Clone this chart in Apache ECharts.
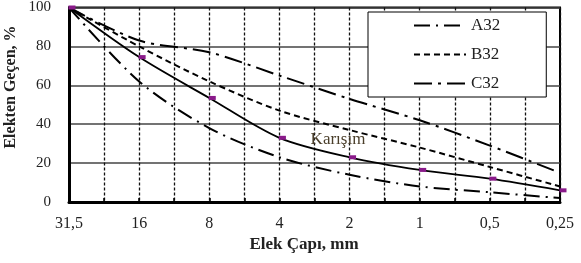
<!DOCTYPE html>
<html>
<head>
<meta charset="utf-8">
<script src="https://cdn.jsdelivr.net/npm/echarts@6/dist/echarts.min.js"></script>
<style>
  html, body { margin: 0; padding: 0; background: #fff; }
  #chart { width: 581px; height: 263px; }
</style>
</head>
<body>
<div id="chart"></div>
<script>
// elek acikliklari (mm)
var sieves = ['31,5', '16', '8', '4', '2', '1', '0,5', '0,25'];
var yTicks = [0, 20, 40, 60, 80, 100];

// gecen yuzdeleri
var a32 = [100, 62, 38, 23, 14, 8, 5, 2];
var b32 = [100, 80, 62, 47, 37, 28, 18, 8];
var c32 = [100, 83, 77, 65, 53, 42, 29, 15];
var karisim = [100, 74.5, 53.5, 33, 23, 16.5, 12, 6];

var serif = '"Liberation Serif", "DejaVu Serif", serif';

function pts(arr) {
  return arr.map(function (v, i) { return [i, v]; });
}

var chart = echarts.init(document.getElementById('chart'));

var option = {
  backgroundColor: '#fff',
  animation: false,
  grid: {
    left: 69, right: 21, top: 7, bottom: 61,
    show: true,
    borderColor: '#000',
    borderWidth: 2
  },
  legend: {
    data: ['A32', 'B32', 'C32'],
    orient: 'vertical',
    left: 368,
    top: 12,
    padding: [5, 46, 5, 45],
    itemWidth: 52,
    itemHeight: 14,
    itemGap: 12,
    backgroundColor: '#fff',
    borderColor: '#000',
    borderWidth: 1,
    itemStyle: { opacity: 0 },
    textStyle: { fontFamily: serif, fontSize: 17, color: '#222' }
  },
  xAxis: [{
    type: 'value',
    min: 0,
    max: 7,
    interval: 0.5,
    axisLine: { lineStyle: { color: '#000', width: 3 } },
    axisTick: { inside: true, length: 4, lineStyle: { color: '#000', width: 1.5 } },
    axisLabel: {
      margin: 14,
      fontFamily: serif,
      fontSize: 16,
      color: '#222',
      formatter: function (v) {
        return v % 1 === 0 ? sieves[v] : '';
      }
    },
    splitLine: {
      show: true,
      lineStyle: { color: '#111', width: 1.3, type: [3, 2] }
    }
  }],
  yAxis: {
    type: 'value',
    min: yTicks[0],
    max: yTicks[yTicks.length - 1],
    interval: 20,
    axisLine: { show: true, lineStyle: { color: '#000', width: 3 } },
    axisTick: { show: false },
    axisLabel: {
      margin: 18,
      fontFamily: serif,
      fontSize: 15,
      color: '#222'
    },
    splitLine: { lineStyle: { color: '#444', width: 1.5 } }
  },
  graphic: [
    {
      type: 'text',
      x: 11, y: 87,
      rotation: Math.PI / 2,
      style: {
        text: 'Elekten Geçen, %',
        font: 'bold 16px ' + serif,
        fill: '#222',
        align: 'center',
        verticalAlign: 'middle'
      }
    },
    {
      type: 'text',
      x: 304, y: 245,
      style: {
        text: 'Elek Çapı, mm',
        font: 'bold 17px ' + serif,
        fill: '#222',
        align: 'center',
        verticalAlign: 'middle'
      }
    },
    {
      type: 'text',
      x: 338, y: 140,
      z: 10,
      style: {
        text: 'Karışım',
        font: '17px ' + serif,
        fill: '#4a3e2a',
        align: 'center',
        verticalAlign: 'middle'
      }
    }
  ],
  series: [
    {
      name: 'A32',
      type: 'line',
      data: pts(a32),
      smooth: 0.3,
      symbol: 'none',
      itemStyle: { color: '#000' },
      lineStyle: { color: '#000', width: 2, type: [16, 6, 2, 6] }
    },
    {
      name: 'B32',
      type: 'line',
      data: pts(b32),
      smooth: 0.3,
      symbol: 'none',
      itemStyle: { color: '#000' },
      lineStyle: { color: '#000', width: 2, type: [6, 4] }
    },
    {
      name: 'C32',
      type: 'line',
      data: pts(c32),
      smooth: 0.3,
      symbol: 'none',
      itemStyle: { color: '#000' },
      lineStyle: { color: '#000', width: 2, type: [18, 6, 3, 6] }
    },
    {
      name: 'Karışım',
      type: 'line',
      data: pts(karisim),
      smooth: 0.3,
      symbol: 'rect',
      symbolSize: [7, 4],
      symbolOffset: [3, 0],
      itemStyle: { color: '#8a1a8a' },
      lineStyle: { color: '#000', width: 1.8 }
    }
  ]
};

chart.setOption(option);
</script>
</body>
</html>
